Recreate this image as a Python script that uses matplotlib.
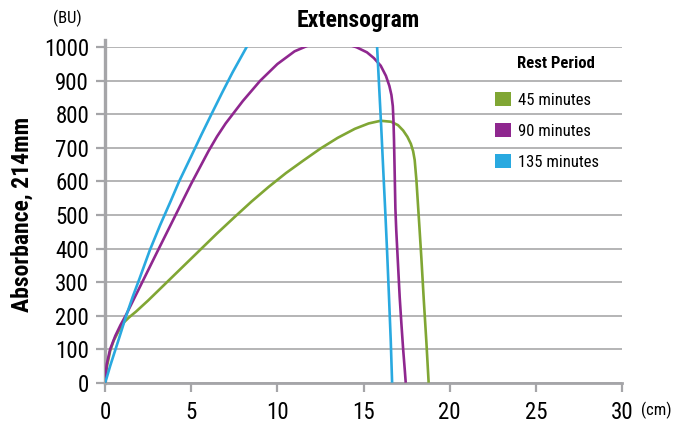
import matplotlib
matplotlib.use("Agg")
import matplotlib.pyplot as plt
from matplotlib.patches import Patch

# valori (cm, BU)
x_45 = [0, 0.1, 0.3, 0.5, 0.8, 1.1, 1.4, 1.8, 2.5, 3.5, 4.5, 5.5, 6.5, 7.5, 8.5, 9.5,
        10.5, 11.5, 12.5, 13.5, 14.5, 15.3, 16.0, 16.6, 17.0, 17.3, 17.55, 17.75,
        17.88, 17.97, 18.07, 18.15, 18.25, 18.36, 18.5, 18.65, 18.78]
y_45 = [0, 45, 95, 125, 155, 180, 195, 212, 245, 295, 345, 395, 445, 493, 540, 584,
        625, 662, 698, 730, 757, 773, 781, 778, 768, 752, 733, 712,
        690, 664, 604, 540, 460, 370, 245, 120, 0]

x_90 = [0, 0.1, 0.3, 0.6, 0.9, 1.2, 2.0, 3.0, 4.0, 5.0, 6.0, 6.5, 7.0, 8.0, 9.0, 10.0,
        11.0, 12.0, 13.0, 14.0, 14.6, 15.2, 15.6, 16.0, 16.3, 16.5, 16.62, 16.7,
        16.74, 16.77, 16.81, 16.85, 16.9, 16.97, 17.1, 17.2, 17.3, 17.4, 17.45]
y_90 = [0, 55, 100, 140, 172, 200, 283, 387, 490, 593, 690, 734, 773, 840, 900, 950,
        988, 1010, 1018, 1010, 1000, 985, 968, 945, 915, 885, 858, 825,
        780, 724, 624, 520, 455, 385, 255, 175, 100, 35, 0]

x_135 = [0, 0.1, 0.3, 0.5, 0.8, 1.2, 1.6, 2.0, 2.6, 3.2, 3.8, 4.3, 5.0, 5.6, 6.2,
         6.8, 7.4, 8.21, 8.8, 15.5, 15.79, 15.9, 16.03, 16.15, 16.27, 16.37, 16.48,
         16.58, 16.66]
y_135 = [0, 15, 50, 82, 130, 195, 255, 310, 395, 470, 540, 600, 675, 740, 803,
         865, 925, 1000, 1055, 1055, 1000, 890, 760, 630, 503, 390, 255,
         127, 0]

serie = ["45 minutes", "90 minutes", "135 minutes"]
colori = ["#80a634", "#8f278f", "#29a9e0"]

x_ticks = [0, 5, 10, 15, 20, 25, 30]
y_ticks = [0, 100, 200, 300, 400, 500, 600, 700, 800, 900, 1000]

plt.rcParams["font.family"] = ["Roboto Condensed", "DejaVu Sans"]

grigio = "#b4b4b6"
spina = "#a5a5a8"

fig = plt.figure(figsize=(6.73, 4.24), dpi=100)
ax = fig.add_axes([105 / 673, 41.3 / 424, 517 / 673, 335.4 / 424])

for xs, ys, c in zip([x_45, x_90, x_135], [y_45, y_90, y_135], colori):
    ax.plot(xs, ys, color=c, lw=1.9, solid_capstyle="butt", solid_joinstyle="round", zorder=3)

ax.set_xlim(0, 30)
ax.set_ylim(0, 1000)
ax.set_xticks(x_ticks)
ax.set_yticks(y_ticks)
ax.tick_params(axis="both", labelsize=16.5, colors=spina, labelcolor="black",
               width=1.6, length=6.5)
ax.tick_params(axis="x", pad=7)
ax.tick_params(axis="y", pad=5)
ax.grid(axis="y", color=grigio, lw=1.4, zorder=0)
ax.set_axisbelow(True)

for s in ("top", "right"):
    ax.spines[s].set_visible(False)
ax.spines["left"].set_color(spina)
ax.spines["left"].set_linewidth(2.4)
ax.spines["left"].set_bounds(0, 1022)
ax.spines["bottom"].set_color(spina)
ax.spines["bottom"].set_linewidth(2.0)

fig.text(358 / 673, 1 - 21 / 424, "Extensogram", fontsize=17, fontweight="bold",
         ha="center", va="center")
fig.text(22 / 673, 1 - 214 / 424, "Absorbance, 214mm", fontsize=17,
         fontweight="bold", rotation=90, ha="center", va="center")
fig.text(67 / 673, 1 - 18 / 424, "(BU)", fontsize=12, ha="center", va="center")
fig.text(641 / 673, 1 - 410 / 424, "(cm)", fontsize=12, ha="left", va="center")

maniglie = [Patch(facecolor=c, edgecolor="none") for c in colori]
ax.legend(maniglie, serie, loc="upper left", bbox_to_anchor=(495 / 673, 1 - 92 / 424),
          bbox_transform=fig.transFigure, frameon=False, fontsize=12,
          handlelength=0.95, handleheight=0.95, handletextpad=0.45,
          labelspacing=0.9, borderaxespad=0, borderpad=0)
fig.text(517 / 673, 1 - 64 / 424, "Rest Period", fontsize=12, fontweight="bold",
         ha="left", va="center")

fig.savefig("out.png", dpi=100)
